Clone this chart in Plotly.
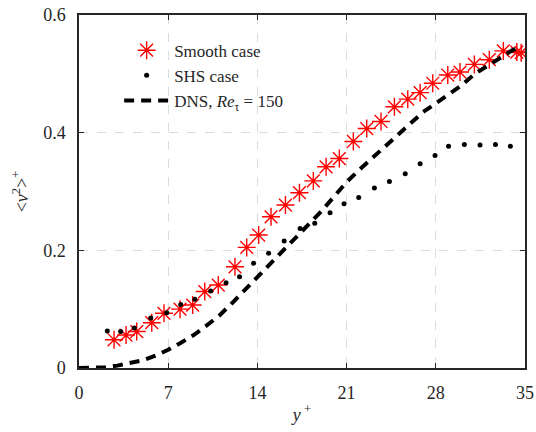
import plotly.graph_objects as go

# Smooth case (red asterisks)
smooth_x = [2.75, 3.69, 4.53, 5.71, 6.67, 7.93, 8.92, 9.87, 10.93, 12.24, 13.16, 14.1,
            15.07, 16.2, 17.3, 18.39, 19.39, 20.43, 21.53, 22.58, 23.7, 24.75, 25.8,
            26.77, 27.76, 28.94, 29.9, 31.03, 32.2, 33.3, 34.36, 34.7]
smooth_y = [0.048, 0.056, 0.062, 0.077, 0.093, 0.100, 0.107, 0.130, 0.141, 0.172, 0.205, 0.226,
            0.257, 0.277, 0.298, 0.318, 0.342, 0.356, 0.385, 0.407, 0.419, 0.444, 0.457,
            0.468, 0.484, 0.498, 0.503, 0.516, 0.524, 0.539, 0.537, 0.536]

# SHS case (black dots)
shs_x = [2.22, 3.27, 4.34, 5.63, 6.88, 7.98, 9.1, 10.33, 11.54, 12.6, 13.7, 14.88, 16.1,
         17.35, 18.5, 19.7, 20.8, 21.95, 23.18, 24.36, 25.6, 26.77, 27.94, 29.0, 30.24,
         31.47, 32.68, 33.85]
shs_y = [0.063, 0.062, 0.068, 0.085, 0.094, 0.108, 0.117, 0.131, 0.145, 0.155, 0.178, 0.195,
         0.216, 0.237, 0.246, 0.264, 0.279, 0.290, 0.306, 0.317, 0.330, 0.347, 0.361, 0.377,
         0.380, 0.379, 0.380, 0.377]

# DNS, Re_tau = 150 (dashed line)
dns_x = [0, 1, 2, 3, 4, 5, 6, 7, 8, 9, 10, 11, 12, 13, 14, 15, 16, 17, 18, 19, 20, 21, 22,
         23, 24, 25, 26, 27, 28, 29, 30, 31, 32, 33, 34, 34.6]
dns_y = [0.0, 0.0003, 0.001, 0.004, 0.008, 0.013, 0.021, 0.031, 0.043, 0.056, 0.072, 0.089,
         0.110, 0.132, 0.154, 0.176, 0.198, 0.221, 0.244, 0.266, 0.291, 0.316, 0.337, 0.357,
         0.377, 0.396, 0.417, 0.435, 0.450, 0.465, 0.480, 0.499, 0.513, 0.526, 0.540, 0.546]

x_ticks = [0, 7, 14, 21, 28, 35]
y_ticks = [0, 0.2, 0.4, 0.6]
y_ticklabels = ["0", "0.2", "0.4", "0.6"]

FONT = "'Liberation Serif', 'DejaVu Serif', serif"
AX = "#262626"

fig = go.Figure()
fig.add_trace(go.Scatter(
    x=smooth_x, y=smooth_y, mode="markers", name="Smooth case",
    marker=dict(symbol="asterisk-open", size=15, color="red",
                line=dict(color="red", width=1.4)),
))
fig.add_trace(go.Scatter(
    x=shs_x, y=shs_y, mode="markers", name="SHS case",
    marker=dict(symbol="circle", size=5, color="black"),
))
fig.add_trace(go.Scatter(
    x=dns_x, y=dns_y, mode="lines", name="DNS, <i>Re</i><sub>τ</sub> = 150",
    line=dict(color="black", width=4, dash="10px,7px"),
))

axis_common = dict(
    showline=True, linecolor=AX, linewidth=1.5, mirror="ticks",
    ticks="inside", ticklen=5, tickwidth=1.2, tickcolor=AX,
    showgrid=True, gridcolor="#dcdcdc", gridwidth=1, griddash="dash",
    zeroline=False, tickfont=dict(family=FONT, size=18, color=AX),
    automargin=False,
)

fig.update_xaxes(range=[0, 35], tickvals=x_ticks, ticklabelstandoff=8,
                 title=dict(text="<i>y</i><sup> +</sup>", font=dict(family=FONT, size=18, color=AX),
                            standoff=6),
                 **axis_common)
fig.update_yaxes(range=[0, 0.6], tickvals=y_ticks, ticktext=y_ticklabels, ticklabelstandoff=8,
                 title=dict(text="&lt;<i>v</i><sup>2</sup>&gt;<sup>+</sup>",
                            font=dict(family=FONT, size=18, color=AX), standoff=10),
                 **axis_common)

fig.update_layout(
    width=536, height=432,
    margin=dict(l=79, r=11, t=15, b=64),
    paper_bgcolor="white", plot_bgcolor="white",
    font=dict(family=FONT, color=AX),
    showlegend=True,
    legend=dict(x=0.09, y=0.95, xanchor="left", yanchor="top",
                bgcolor="rgba(0,0,0,0)", font=dict(family=FONT, size=17, color=AX),
                itemwidth=45, tracegroupgap=4),
)

fig.write_html("out.html", config={"displayModeBar": False},
               post_script="document.body.style.margin='0';")
